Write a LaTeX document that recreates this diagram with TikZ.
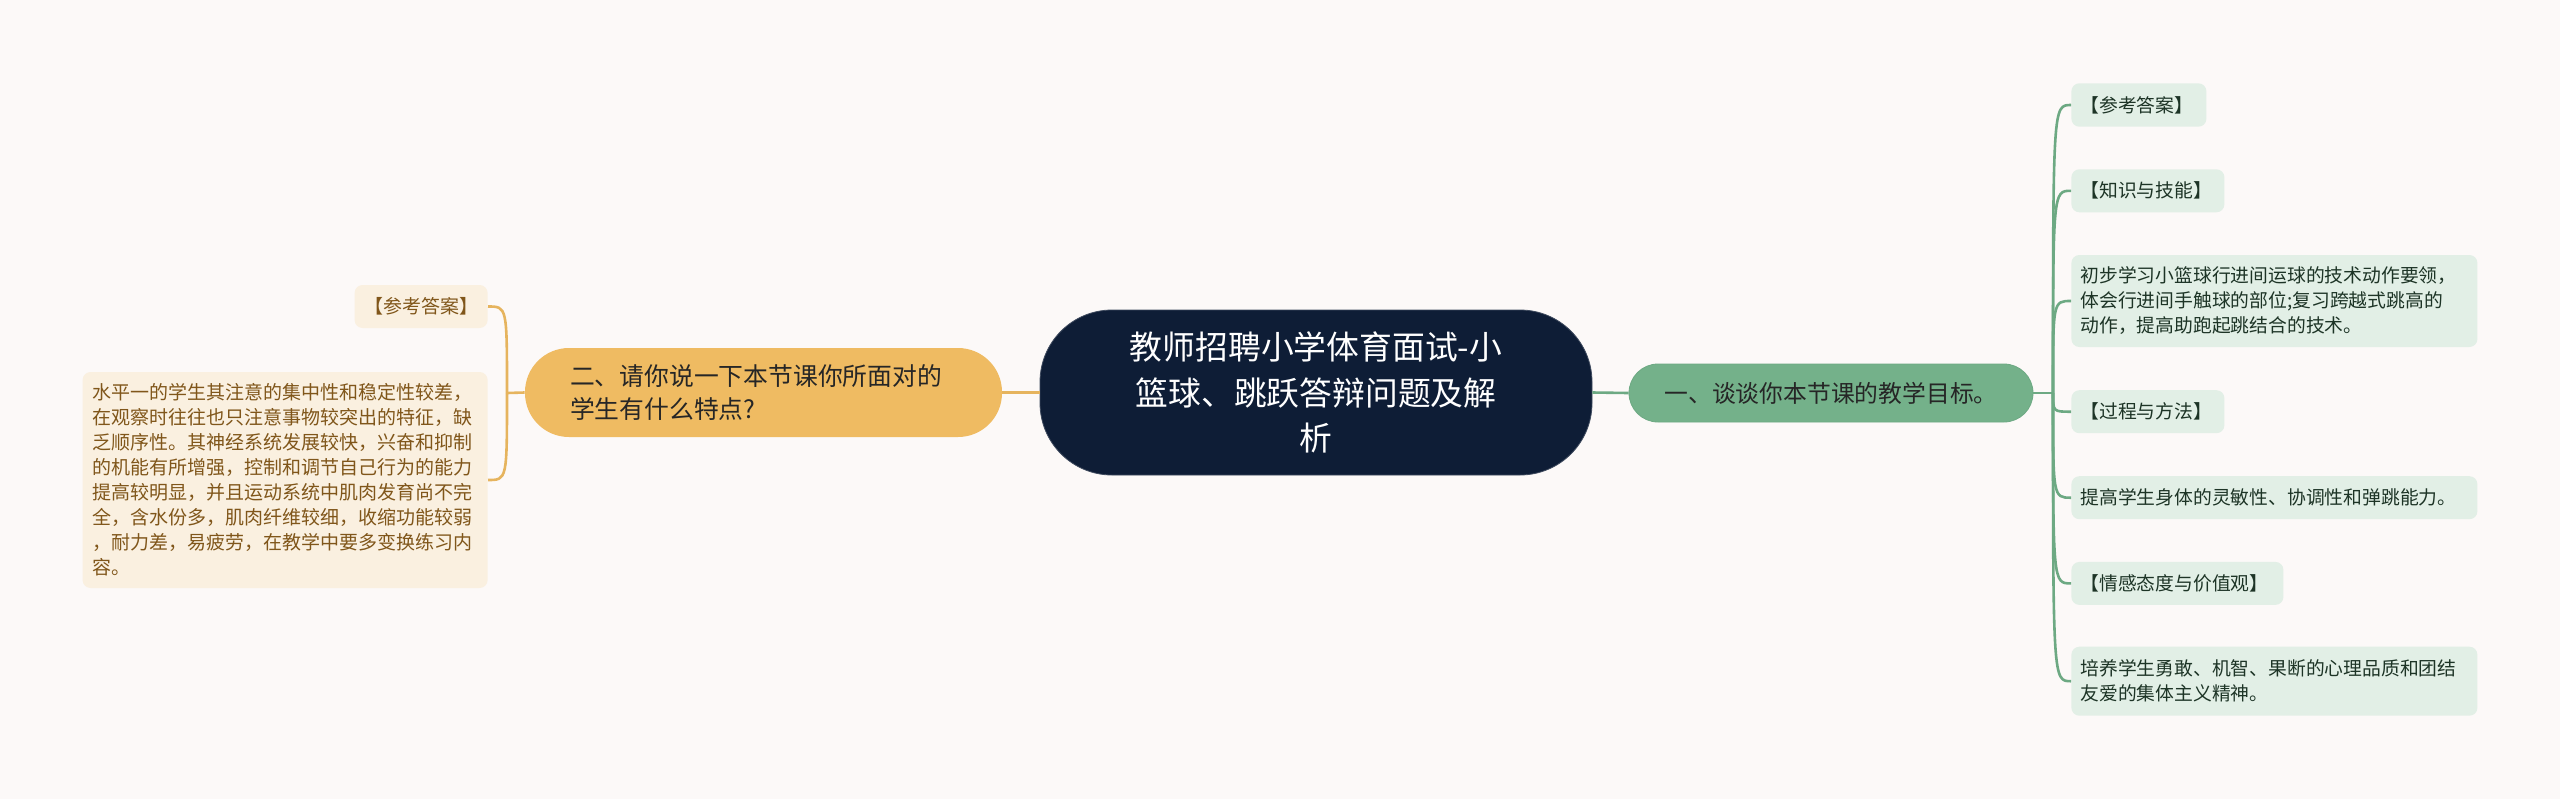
\documentclass[tikz,border=0pt]{standalone}
\usepackage{fontspec}
\setmainfont{Noto Sans CJK SC}
\definecolor{bgcol}{HTML}{FCF9F8}
\definecolor{rootcol}{HTML}{0E1D36}
\definecolor{orangecol}{HTML}{EFBB62}
\definecolor{orangeline}{HTML}{E6B45E}
\definecolor{orangeleaf}{HTML}{FAF0E0}
\definecolor{orangetext}{HTML}{80561A}
\definecolor{greencol}{HTML}{74B18A}
\definecolor{greenline}{HTML}{6DA983}
\definecolor{greenleaf}{HTML}{E2EFE6}
\definecolor{greentext}{HTML}{1D3426}

\begin{document}
\begin{tikzpicture}[x=0.5pt,y=-0.5pt]
	\tikzstyle{root} = [rectangle, rounded corners=36pt, fill=rootcol, draw=rootcol!80!white, text=white, align=center, minimum width=276pt, minimum height=82.5pt, inner sep=0pt, font=\fontsize{16.4}{22.9}\selectfont];
	\tikzstyle{mainL} = [rectangle, rounded corners=22pt, fill=orangecol, text=black!85, align=left, text width=193.5pt, minimum height=44.5pt, inner xsep=22.5pt, inner ysep=0pt, font=\fontsize{12.4}{16.5}\selectfont];
	\tikzstyle{mainR} = [rectangle, rounded corners=14.5pt, fill=greencol, draw=greenline, text=black!85, minimum width=202pt, minimum height=29pt, inner sep=0pt, font=\fontsize{11.9}{15}\selectfont];
	\tikzstyle{leafL} = [rectangle, rounded corners=4pt, fill=orangeleaf, text=orangetext, align=left, anchor=east, inner xsep=5pt, inner ysep=3pt, font=\fontsize{9.5}{12.5}\selectfont];
	\tikzstyle{leafR} = [rectangle, rounded corners=4pt, fill=greenleaf, text=greentext, align=left, anchor=west, inner xsep=4.5pt, inner ysep=3pt, font=\fontsize{9.4}{12.5}\selectfont];
	\tikzstyle{lineL} = [draw=orangeline, line width=1.3pt];
	\tikzstyle{lineR} = [draw=greenline, line width=1.3pt];

	\fill[bgcol] (0,0) rectangle (2560,799);
	\useasboundingbox (0,0) rectangle (2560,799);

	\node[root] at (1316, 392.5) (root) {教师招聘小学体育面试-小\\篮球、跳跃答辩问题及解\\析};

	\node[mainL] at (763.5, 392.5) (qtwo) {二、请你说一下本节课你所面对的\\学生有什么特点?};
		\node[leafL, text width=56.5pt, minimum height=21.5pt] at (488, 306.5) (lans) {【参考答案】};
		\node[leafL, text width=192.5pt, minimum height=108pt] at (488, 480) (ltext) {水平一的学生其注意的集中性和稳定性较差，\\在观察时往往也只注意事物较突出的特征，缺\\乏顺序性。其神经系统发展较快，兴奋和抑制\\的机能有所增强，控制和调节自己行为的能力\\提高较明显，并且运动系统中肌肉发育尚不完\\全，含水份多，肌肉纤维较细，收缩功能较弱\\，耐力差，易疲劳，在教学中要多变换练习内\\容。};

	\node[mainR] at (1831, 393) (qone) {一、谈谈你本节课的教学目标。};
		\node[leafR, text width=58.5pt, minimum height=21.7pt] at (2071, 105) (rans) {【参考答案】};
		\node[leafR, text width=67.5pt, minimum height=21.5pt] at (2071, 190.8) (rknow) {【知识与技能】};
		\node[leafR, text width=194pt, minimum height=46pt] at (2071, 301) (rk) {初步学习小篮球行进间运球的技术动作要领，\\体会行进间手触球的部位;复习跨越式跳高的\\动作，提高助跑起跳结合的技术。};
		\node[leafR, text width=67.5pt, minimum height=21.5pt] at (2071, 411.7) (rproc) {【过程与方法】};
		\node[leafR, text width=194pt, minimum height=21.5pt] at (2071, 497.7) (rp) {提高学生身体的灵敏性、协调性和弹跳能力。};
		\node[leafR, text width=97pt, minimum height=21.5pt] at (2071, 583.4) (remo) {【情感态度与价值观】};
		\node[leafR, text width=194pt, minimum height=34.5pt] at (2071, 681.2) (re) {培养学生勇敢、机智、果断的心理品质和团结\\友爱的集体主义精神。};

	\coordinate (trunkL) at (507, 393);
	\coordinate (trunkR) at (2053, 393);

	\draw[lineL] (root.west) -- (qtwo.east);
	\draw[lineL] (qtwo.west) -- (trunkL);
	\draw[lineL] (trunkL) .. controls (507, 306.5) .. (lans.east);
	\draw[lineL] (trunkL) .. controls (507, 480) .. (ltext.east);

	\draw[lineR] (root.east) -- (qone.west);
	\draw[lineR] (qone.east) -- (trunkR);
	\draw[lineR] (trunkR) .. controls (2053, 105) .. (rans.west);
	\draw[lineR] (trunkR) .. controls (2053, 190.8) .. (rknow.west);
	\draw[lineR] (trunkR) .. controls (2053, 301) .. (rk.west);
	\draw[lineR] (trunkR) .. controls (2053, 411.7) .. (rproc.west);
	\draw[lineR] (trunkR) .. controls (2053, 497.7) .. (rp.west);
	\draw[lineR] (trunkR) .. controls (2053, 583.4) .. (remo.west);
	\draw[lineR] (trunkR) .. controls (2053, 681.2) .. (re.west);

\end{tikzpicture}
\end{document}
